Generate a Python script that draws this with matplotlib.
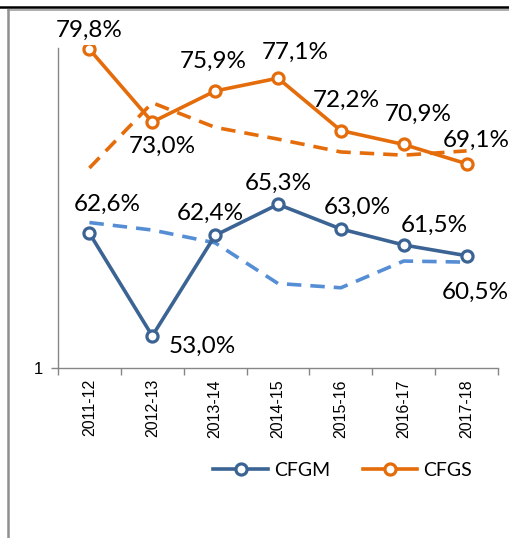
import matplotlib
matplotlib.use('Agg')
import matplotlib.pyplot as plt
from matplotlib.lines import Line2D

# Datos
cursos = ['2011-12', '2012-13', '2013-14', '2014-15', '2015-16', '2016-17', '2017-18']
cfgm = [62.6, 53.0, 62.4, 65.3, 63.0, 61.5, 60.5]
cfgs = [79.8, 73.0, 75.9, 77.1, 72.2, 70.9, 69.1]
# lineas discontinuas (tendencia)
cfgm_trend = [63.6, 62.9, 61.7, 57.9, 57.5, 60.0, 59.9]
cfgs_trend = [68.7, 74.8, 72.5, 71.4, 70.2, 69.9, 70.3]

# desplazamiento de etiquetas (pixeles)
off_cfgm = [(18, 29), (50, -10), (-5, 22), (0, 21), (16, 22), (31, 20), (9, -37)]
off_cfgs = [(0, 19), (10, -24), (-2, 30), (17, 26), (5, 30), (15, 30), (10, 23)]

azul = '#3B6494'
azul_claro = '#558ED5'
naranja = '#E46C0A'

plt.rcParams['font.family'] = ['Lato', 'DejaVu Sans']

fig = plt.figure(figsize=(5.1, 5.38), dpi=100)
ax = fig.add_axes([58/510, 1-368/538, 440/510, 323/538])

x = list(range(len(cursos)))

ax.plot(x, cfgs_trend, color=naranja, lw=2.6, ls=(0, (4, 2.5)), zorder=2)
ax.plot(x, cfgm_trend, color=azul_claro, lw=2.6, ls=(0, (4, 2.5)), zorder=2)
ax.plot(x, cfgm, color=azul, lw=2.6, marker='o', ms=8, mfc='white', mec=azul,
        mew=2.3, label='CFGM', zorder=3)
ax.plot(x, cfgs, color=naranja, lw=2.6, marker='o', ms=8, mfc='white', mec=naranja,
        mew=2.3, label='CFGS', zorder=3)

for xi, v, o in zip(x, cfgm, off_cfgm):
    ax.annotate(f'{v:.1f}%'.replace('.', ','), (xi, v), xytext=o,
                textcoords='offset pixels', ha='center', va='center', fontsize=17.5)
for xi, v, o in zip(x, cfgs, off_cfgs):
    ax.annotate(f'{v:.1f}%'.replace('.', ','), (xi, v), xytext=o,
                textcoords='offset pixels', ha='center', va='center', fontsize=17.5)

ax.set_xlim(-0.5, 6.5)
ax.set_ylim(50, 80.2)

ax.set_xticks(x)
ax.set_xticklabels(cursos, rotation=90, fontsize=11.5, family='Liberation Sans')
ax.tick_params(axis='x', which='major', length=0, pad=8)
ax.set_xticks([i - 0.5 for i in range(len(cursos) + 1)], minor=True)
ax.tick_params(axis='x', which='minor', length=5, color='#868686', width=1)

ax.set_yticks([50])
ax.set_yticklabels(['1'], fontsize=12, family='Liberation Sans')
ax.tick_params(axis='y', length=5, color='#868686', width=1, pad=6)

for s in ['top', 'right']:
    ax.spines[s].set_visible(False)
for s in ['left', 'bottom']:
    ax.spines[s].set_color('#868686')
    ax.spines[s].set_linewidth(1)
ax.spines['left'].set_bounds(50, 79.9)

fig.legend(loc='center', bbox_to_anchor=(0.672, 1-470/538), ncol=2, frameon=False,
           fontsize=14, handlelength=2.8, handletextpad=0.3, columnspacing=1.7)

# marco
fig.add_artist(Line2D([0, 1], [1-7/538, 1-7/538], color='black', lw=1.8,
                      transform=fig.transFigure))
fig.add_artist(Line2D([8/510, 1], [1-10/538, 1-10/538], color='#A0A0A0', lw=1.2,
                      transform=fig.transFigure))
fig.add_artist(Line2D([8/510, 8/510], [0, 1-10/538], color='#909090', lw=1.8,
                      transform=fig.transFigure))

fig.savefig('out.png', dpi=100)
